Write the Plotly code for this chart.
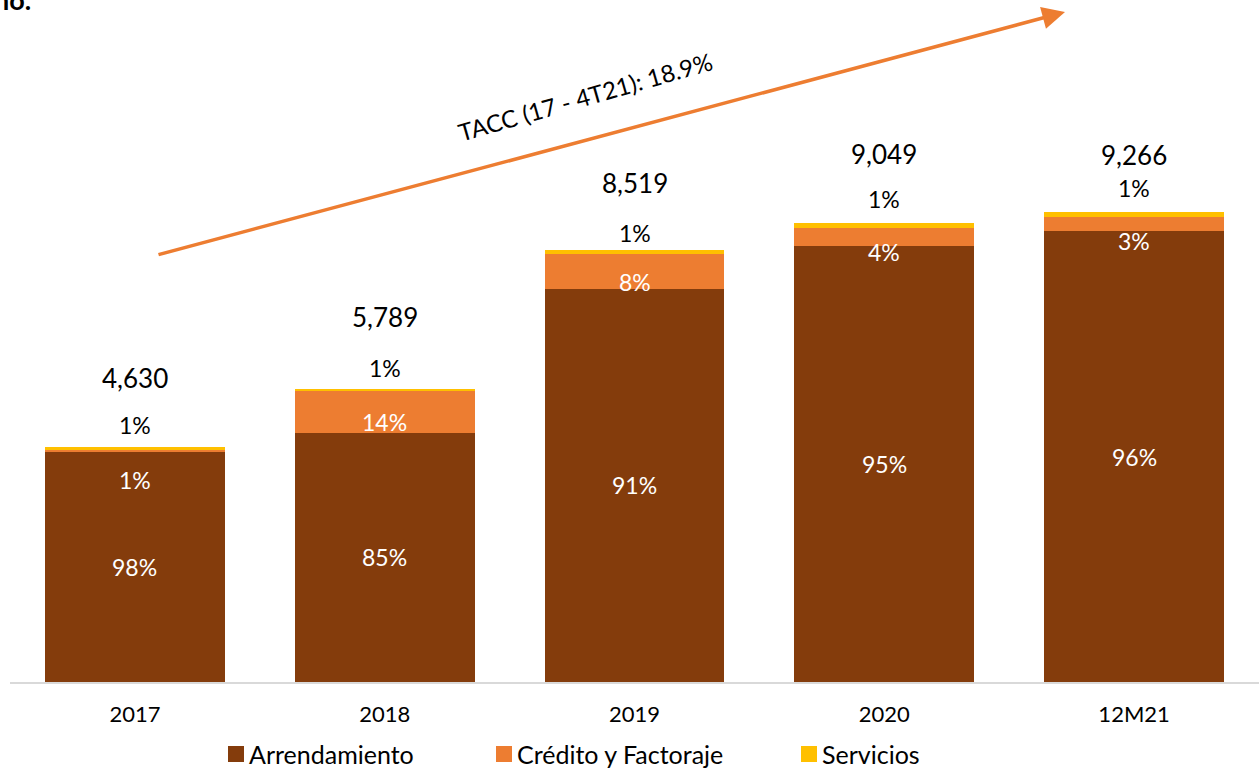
import plotly.graph_objects as go

# Ingresos por línea de negocio (millones) y su mezcla porcentual
categories = ["2017", "2018", "2019", "2020", "12M21"]
totals = [4630, 5789, 8519, 9049, 9266]
pct_arrendamiento = [98, 85, 91, 95, 96]
pct_credito = [1, 14, 8, 4, 3]
pct_servicios = [1, 1, 1, 1, 1]
series_names = ["Arrendamiento", "Crédito y Factoraje", "Servicios"]
tacc_label = "TACC (17 - 4T21): 18.9%"

# Label nudges in pixels (positive = up)
credito_label_shift = [-29, -10, -10, -15, -17]
servicios_label_shift = [22, 21, 17, 24, 24]
total_label_shift = [69, 72, 67, 69, 57]

COLORS = ["#843C0C", "#ED7D31", "#FFC000"]
FONT = "Lato"
W, H = 1259, 770
M_L, M_B = 10, 88
PLOT_W, PLOT_H = W - M_L, H - M_B


def px_to_paper(px, py):
    return (px - M_L) / PLOT_W, (PLOT_H - py) / PLOT_H


arr = [t * p / 100 for t, p in zip(totals, pct_arrendamiento)]
cred = [t * p / 100 for t, p in zip(totals, pct_credito)]
serv = [t * p / 100 for t, p in zip(totals, pct_servicios)]

fig = go.Figure()
for name, vals, col in zip(series_names, [arr, cred, serv], COLORS):
    fig.add_bar(x=categories, y=vals, name=name, marker_color=col,
                marker_line_width=0, hoverinfo="skip", showlegend=False)

# Category axis: annotations are placed by category index
ann = []
for i in range(len(categories)):
    top = arr[i] + cred[i] + serv[i]
    ann.append(dict(x=i, y=arr[i] / 2, text=f"{pct_arrendamiento[i]}%",
                    font=dict(family=FONT, size=23, color="white"), showarrow=False))
    ann.append(dict(x=i, y=arr[i] + cred[i] / 2, text=f"{pct_credito[i]}%",
                    yshift=credito_label_shift[i],
                    font=dict(family=FONT, size=23, color="white"), showarrow=False))
    ann.append(dict(x=i, y=top, text=f"{pct_servicios[i]}%",
                    yshift=servicios_label_shift[i],
                    font=dict(family=FONT, size=23, color="black"), showarrow=False))
    ann.append(dict(x=i, y=top, text=f"{totals[i]:,}",
                    yshift=total_label_shift[i],
                    font=dict(family=FONT, size=26, color="black"), showarrow=False))

# Growth arrow and CAGR caption
hx, hy = px_to_paper(1065, 12)
ann.append(dict(xref="paper", yref="paper", x=hx, y=hy, text="",
                showarrow=True, arrowhead=2, arrowsize=1.3, arrowwidth=3.5,
                arrowcolor=COLORS[1], ax=-908, ay=243))
cx, cy = px_to_paper(585, 97)
ann.append(dict(xref="paper", yref="paper", x=cx, y=cy, xanchor="center", yanchor="middle",
                text=tacc_label, textangle=-16, showarrow=False,
                font=dict(family=FONT, size=24, color="black")))
ann.append(dict(xref="paper", yref="paper", x=0, y=1, xanchor="right", yanchor="bottom",
                xshift=23, yshift=-18, text="<b>no.</b>", showarrow=False,
                font=dict(family=FONT, size=27, color="black")))

# Legend row: colour key squares followed by series names
shapes = []
legend_x = [228, 496, 801]
for name, col, lx in zip(series_names, COLORS, legend_x):
    x0, y0 = px_to_paper(lx, 762)
    x1, y1 = px_to_paper(lx + 16, 746)
    shapes.append(dict(type="rect", xref="paper", yref="paper", x0=x0, x1=x1, y0=y0, y1=y1,
                       fillcolor=col, line_width=0))
    tx, ty = px_to_paper(lx + 19, 754)
    ann.append(dict(xref="paper", yref="paper", x=tx, y=ty, xanchor="left", yanchor="middle",
                    text=name, showarrow=False,
                    font=dict(family=FONT, size=25, color="black")))

fig.update_layout(
    width=W, height=H,
    margin=dict(l=M_L, r=0, t=0, b=M_B),
    barmode="stack", bargap=0.28,
    plot_bgcolor="white", paper_bgcolor="white",
    font=dict(family=FONT, color="black"),
    annotations=ann, shapes=shapes,
    showlegend=False,
)
fig.update_xaxes(type="category", range=[-0.5, len(categories) - 0.5],
                 showline=True, linecolor="#D9D9D9", linewidth=2, ticks="",
                 ticklabelstandoff=12,
                 tickfont=dict(family=FONT, size=22, color="black"), showgrid=False)
fig.update_yaxes(visible=False, range=[0, PLOT_H / 0.0507], showgrid=False)

fig.write_html("out.html")
